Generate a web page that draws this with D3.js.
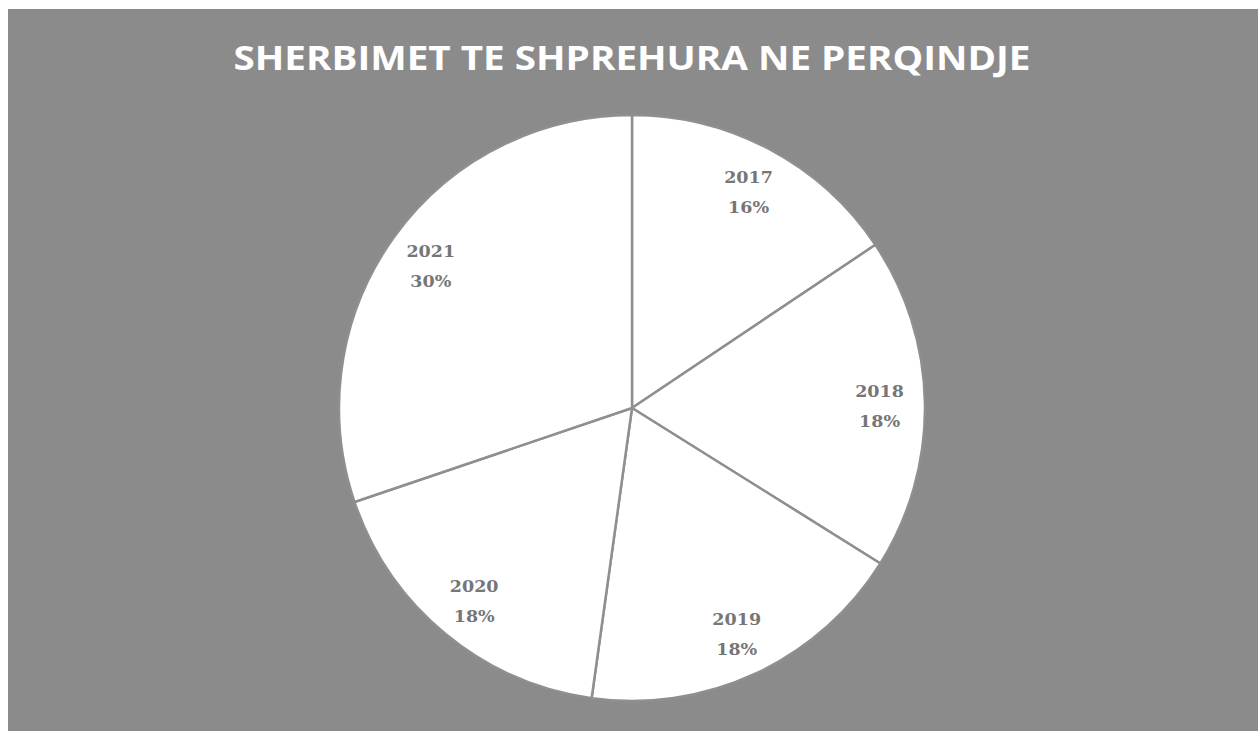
<!DOCTYPE html>
<html>
<head>
<meta charset="utf-8">
<script src="https://cdn.jsdelivr.net/npm/d3@7"></script>
<style>
  html, body { margin: 0; padding: 0; background: #fff; }
  svg { display: block; }
</style>
</head>
<body>
<svg id="chart" width="1258" height="731"></svg>
<script>
var years = ['2017', '2018', '2019', '2020', '2021'];
var shares = [15.6, 18.3, 18.3, 17.6, 30.2];
var chartTitle = 'SHERBIMET TE SHPREHURA NE PERQINDJE';

var svg = d3.select('#chart');
var width = +svg.attr('width'), height = +svg.attr('height');
var cx = 632, cy = 408, radius = 293;

// scanned gray background
svg.append('rect')
   .attr('x', 8).attr('y', 9)
   .attr('width', width - 8).attr('height', height - 9)
   .attr('fill', '#8b8b8b');

svg.append('text')
   .attr('x', 632).attr('y', 70)
   .attr('text-anchor', 'middle')
   .attr('font-family', '"Open Sans", sans-serif')
   .attr('font-weight', 700)
   .attr('font-size', 34)
   .attr('fill', '#ffffff')
   .attr('textLength', 797)
   .attr('lengthAdjust', 'spacingAndGlyphs')
   .text(chartTitle);

var pieData = d3.pie().sort(null).value(d => d)(shares);
var arc = d3.arc().innerRadius(0).outerRadius(radius);
var labelArc = d3.arc().innerRadius(radius * 0.845).outerRadius(radius * 0.845);

var g = svg.append('g').attr('transform', 'translate(' + cx + ',' + cy + ')');

g.selectAll('path').data(pieData).enter().append('path')
 .attr('d', arc)
 .attr('fill', '#ffffff')
 .attr('stroke', '#8f8f8f')
 .attr('stroke-width', 2.5)
 .attr('stroke-linejoin', 'round');

var labels = g.selectAll('text.lbl').data(pieData).enter().append('text')
  .attr('class', 'lbl')
  .attr('transform', d => 'translate(' + labelArc.centroid(d) + ')')
  .attr('text-anchor', 'middle')
  .attr('font-family', '"DejaVu Serif", serif')
  .attr('font-weight', 700)
  .attr('font-size', 17.5)
  .attr('fill', '#767676');

labels.append('tspan').attr('x', 0).attr('dy', '-0.4em').text((d, i) => years[i]);
labels.append('tspan').attr('x', 0).attr('dy', '1.72em').text(d => Math.round(d.data) + '%');
</script>
</body>
</html>
